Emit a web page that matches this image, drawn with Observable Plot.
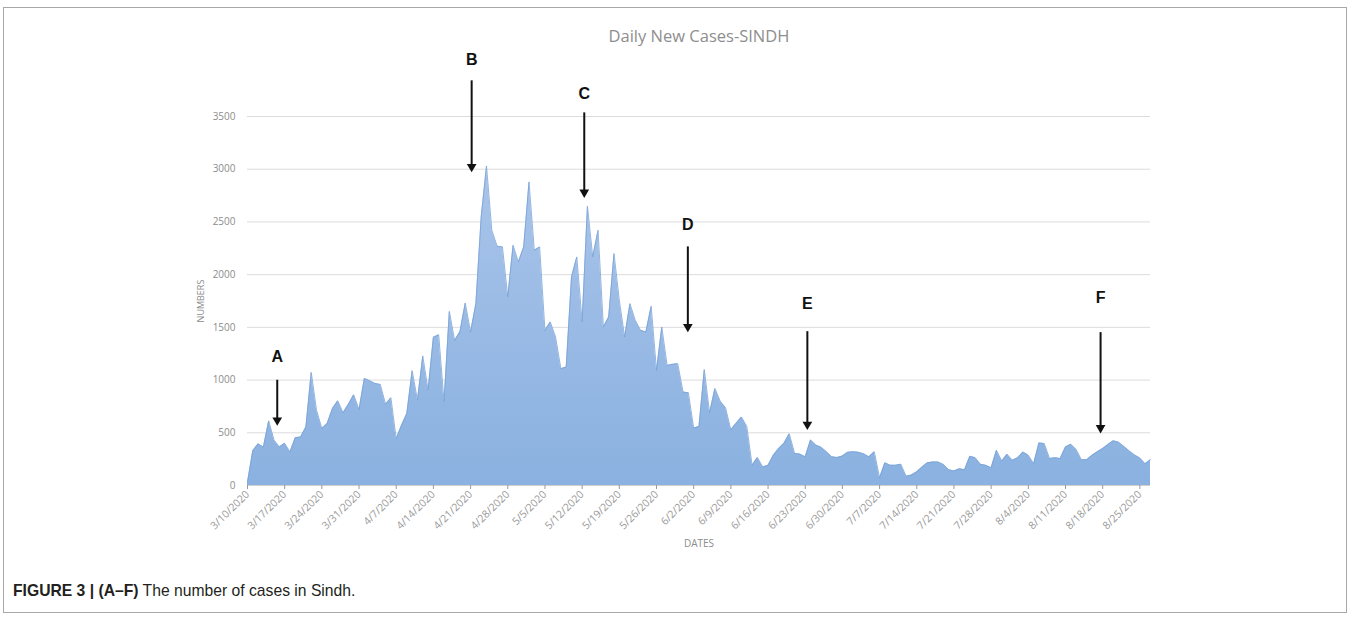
<!DOCTYPE html>
<html><head><meta charset="utf-8">
<script src="https://cdn.jsdelivr.net/npm/d3@7"></script>
<script src="https://cdn.jsdelivr.net/npm/@observablehq/plot@0.6"></script>
<style>
html,body{margin:0;padding:0;background:#fff;}
body{width:1354px;height:619px;position:relative;overflow:hidden;font-family:"Liberation Sans",Arial,sans-serif;}
#frame{position:absolute;left:3px;top:7px;width:1344px;height:606px;border:1px solid #a8a8a8;box-sizing:border-box;}
#chart{position:absolute;left:0;top:0;}
#caption{position:absolute;left:13px;top:582px;font-size:15.7px;color:#231f20;line-height:18px;}
</style></head><body>
<div id="frame"></div>
<div id="chart"></div>
<div id="caption"><b>FIGURE 3 | (A–F)</b> The number of cases in Sindh.</div>
<script>
// ---- data ----
const chartTitle = "Daily New Cases-SINDH";
const yLabel = "NUMBERS";
const xLabel = "DATES";
const startDate = "3/10/2020";
const dailyCases = [
  30,330,395,365,613,430,365,400,318,454,
  460,556,1073,714,540,587,730,803,689,771,
  860,720,1016,994,968,959,771,832,444,571,
  683,1089,810,1229,905,1406,1429,794,1651,1375,
  1460,1730,1456,1725,2548,3030,2421,2269,2263,1788,
  2279,2120,2263,2880,2231,2263,1472,1551,1408,1108,
  1124,1978,2168,1551,2649,2168,2421,1503,1598,2200,
  1757,1408,1725,1567,1472,1456,1700,1092,1503,1139,
  1149,1155,886,880,545,560,1100,689,920,800,
  737,529,590,650,560,192,266,176,192,288,
  352,400,490,304,298,272,432,384,362,320,
  272,265,280,315,320,315,300,272,320,74,
  215,192,192,202,87,100,130,175,215,223,
  223,200,150,137,159,150,277,264,201,191,
  169,334,232,296,239,264,318,287,207,404,
  398,255,264,255,366,392,341,245,245,287,
  320,350,390,424,410,370,328,290,260,207,245
];
const yTicks = [0,500,1000,1500,2000,2500,3000,3500];
const xTickLabels = ["3/10/2020","3/17/2020","3/24/2020","3/31/2020","4/7/2020","4/14/2020","4/21/2020","4/28/2020","5/5/2020","5/12/2020","5/19/2020","5/26/2020","6/2/2020","6/9/2020","6/16/2020","6/23/2020","6/30/2020","7/7/2020","7/14/2020","7/21/2020","7/28/2020","8/4/2020","8/11/2020","8/18/2020","8/25/2020"];
// annotation arrows (day offset from start, label level, arrow top, arrow tip)
const markerLabels = ["A","B","C","D","E","F"];
const markerDay    = [5.6, 42.2, 63.4, 82.9, 105.4, 160.6];
const markerText   = [1217, 4040, 3710, 2476, 1720, 1784];
const markerTop    = [1003, 3843, 3539, 2268, 1464, 1455];
const markerTip    = [600, 3005, 2761, 1487, 560, 528];

// ---- build ----
const parse = d3.utcParse("%m/%d/%Y");
const fmt = d3.utcFormat("%-m/%-d/%Y");
const t0 = parse(startDate);
const series = dailyCases.map((v, i) => ({date: d3.utcDay.offset(t0, i), value: v}));
const tickDates = xTickLabels.map(parse);
const markers = markerLabels.map((l, i) => ({
  label: l,
  date: new Date(+t0 + markerDay[i] * 864e5),
  text: markerText[i], top: markerTop[i], tip: markerTip[i]
}));

const gradient = () => {
  const defs = d3.create("svg:defs");
  const g = defs.append("linearGradient").attr("id", "areaGrad")
    .attr("x1", 0).attr("y1", 0).attr("x2", 0).attr("y2", 1);
  g.append("stop").attr("offset", "0%").attr("stop-color", "#a9c4ea");
  g.append("stop").attr("offset", "100%").attr("stop-color", "#8ab1e0");
  return defs.node();
};

const plot = Plot.plot({
  width: 1354,
  height: 560,
  marginLeft: 247,
  marginRight: 204,
  marginTop: 116,
  marginBottom: 75,
  style: {fontFamily: "'Open Sans', 'Liberation Sans', sans-serif", background: "transparent", overflow: "visible"},
  x: {type: "utc", domain: [series[0].date, series[series.length - 1].date]},
  y: {domain: [0, 3500]},
  marks: [
    gradient,
    Plot.gridY(yTicks, {stroke: "#dcdcdc", strokeOpacity: 1}),
    Plot.areaY(series, {x: "date", y: "value", fill: "url(#areaGrad)"}),
    Plot.lineY(series, {x: "date", y: "value", stroke: "#79a2d6", strokeWidth: 0.8}),
    Plot.ruleY([0], {stroke: "#d0d0d0"}),
    Plot.axisY({ticks: yTicks, tickFormat: d3.format("d"), tickSize: 0, tickPadding: 12, fontSize: 10, color: "#8c8c8c", label: null}),
    Plot.axisX({ticks: tickDates, tickFormat: fmt, tickRotate: -45, tickSize: 4, tickPadding: 3, fontSize: 10.5, color: "#9a9a9a", label: null}),
    Plot.text([yLabel], {frameAnchor: "left", dx: -46, rotate: -90, textAnchor: "middle", lineAnchor: "middle", fontSize: 9, fill: "#8c8c8c"}),
    Plot.text([xLabel], {frameAnchor: "bottom", dy: 58, lineAnchor: "middle", fontSize: 10, fill: "#8c8c8c"}),
    Plot.text([chartTitle], {frameAnchor: "top", dy: -80, lineAnchor: "middle", fontSize: 16.5, fill: "#8e8e8e"}),
    Plot.link(markers, {x1: "date", x2: "date", y1: "top", y2: "tip", stroke: "#111", strokeWidth: 2}),
    Plot.dot(markers, {x: "date", y: "tip", symbol: "triangle", rotate: 180, r: 3.6, fill: "#111", stroke: null, dy: -2}),
    Plot.text(markers, {x: "date", y: "text", text: "label", fontSize: 16, fontWeight: "bold", fill: "#111", fontFamily: "'Liberation Sans', Arial, sans-serif"})
  ]
});
document.getElementById("chart").appendChild(plot);
</script>
</body></html>
